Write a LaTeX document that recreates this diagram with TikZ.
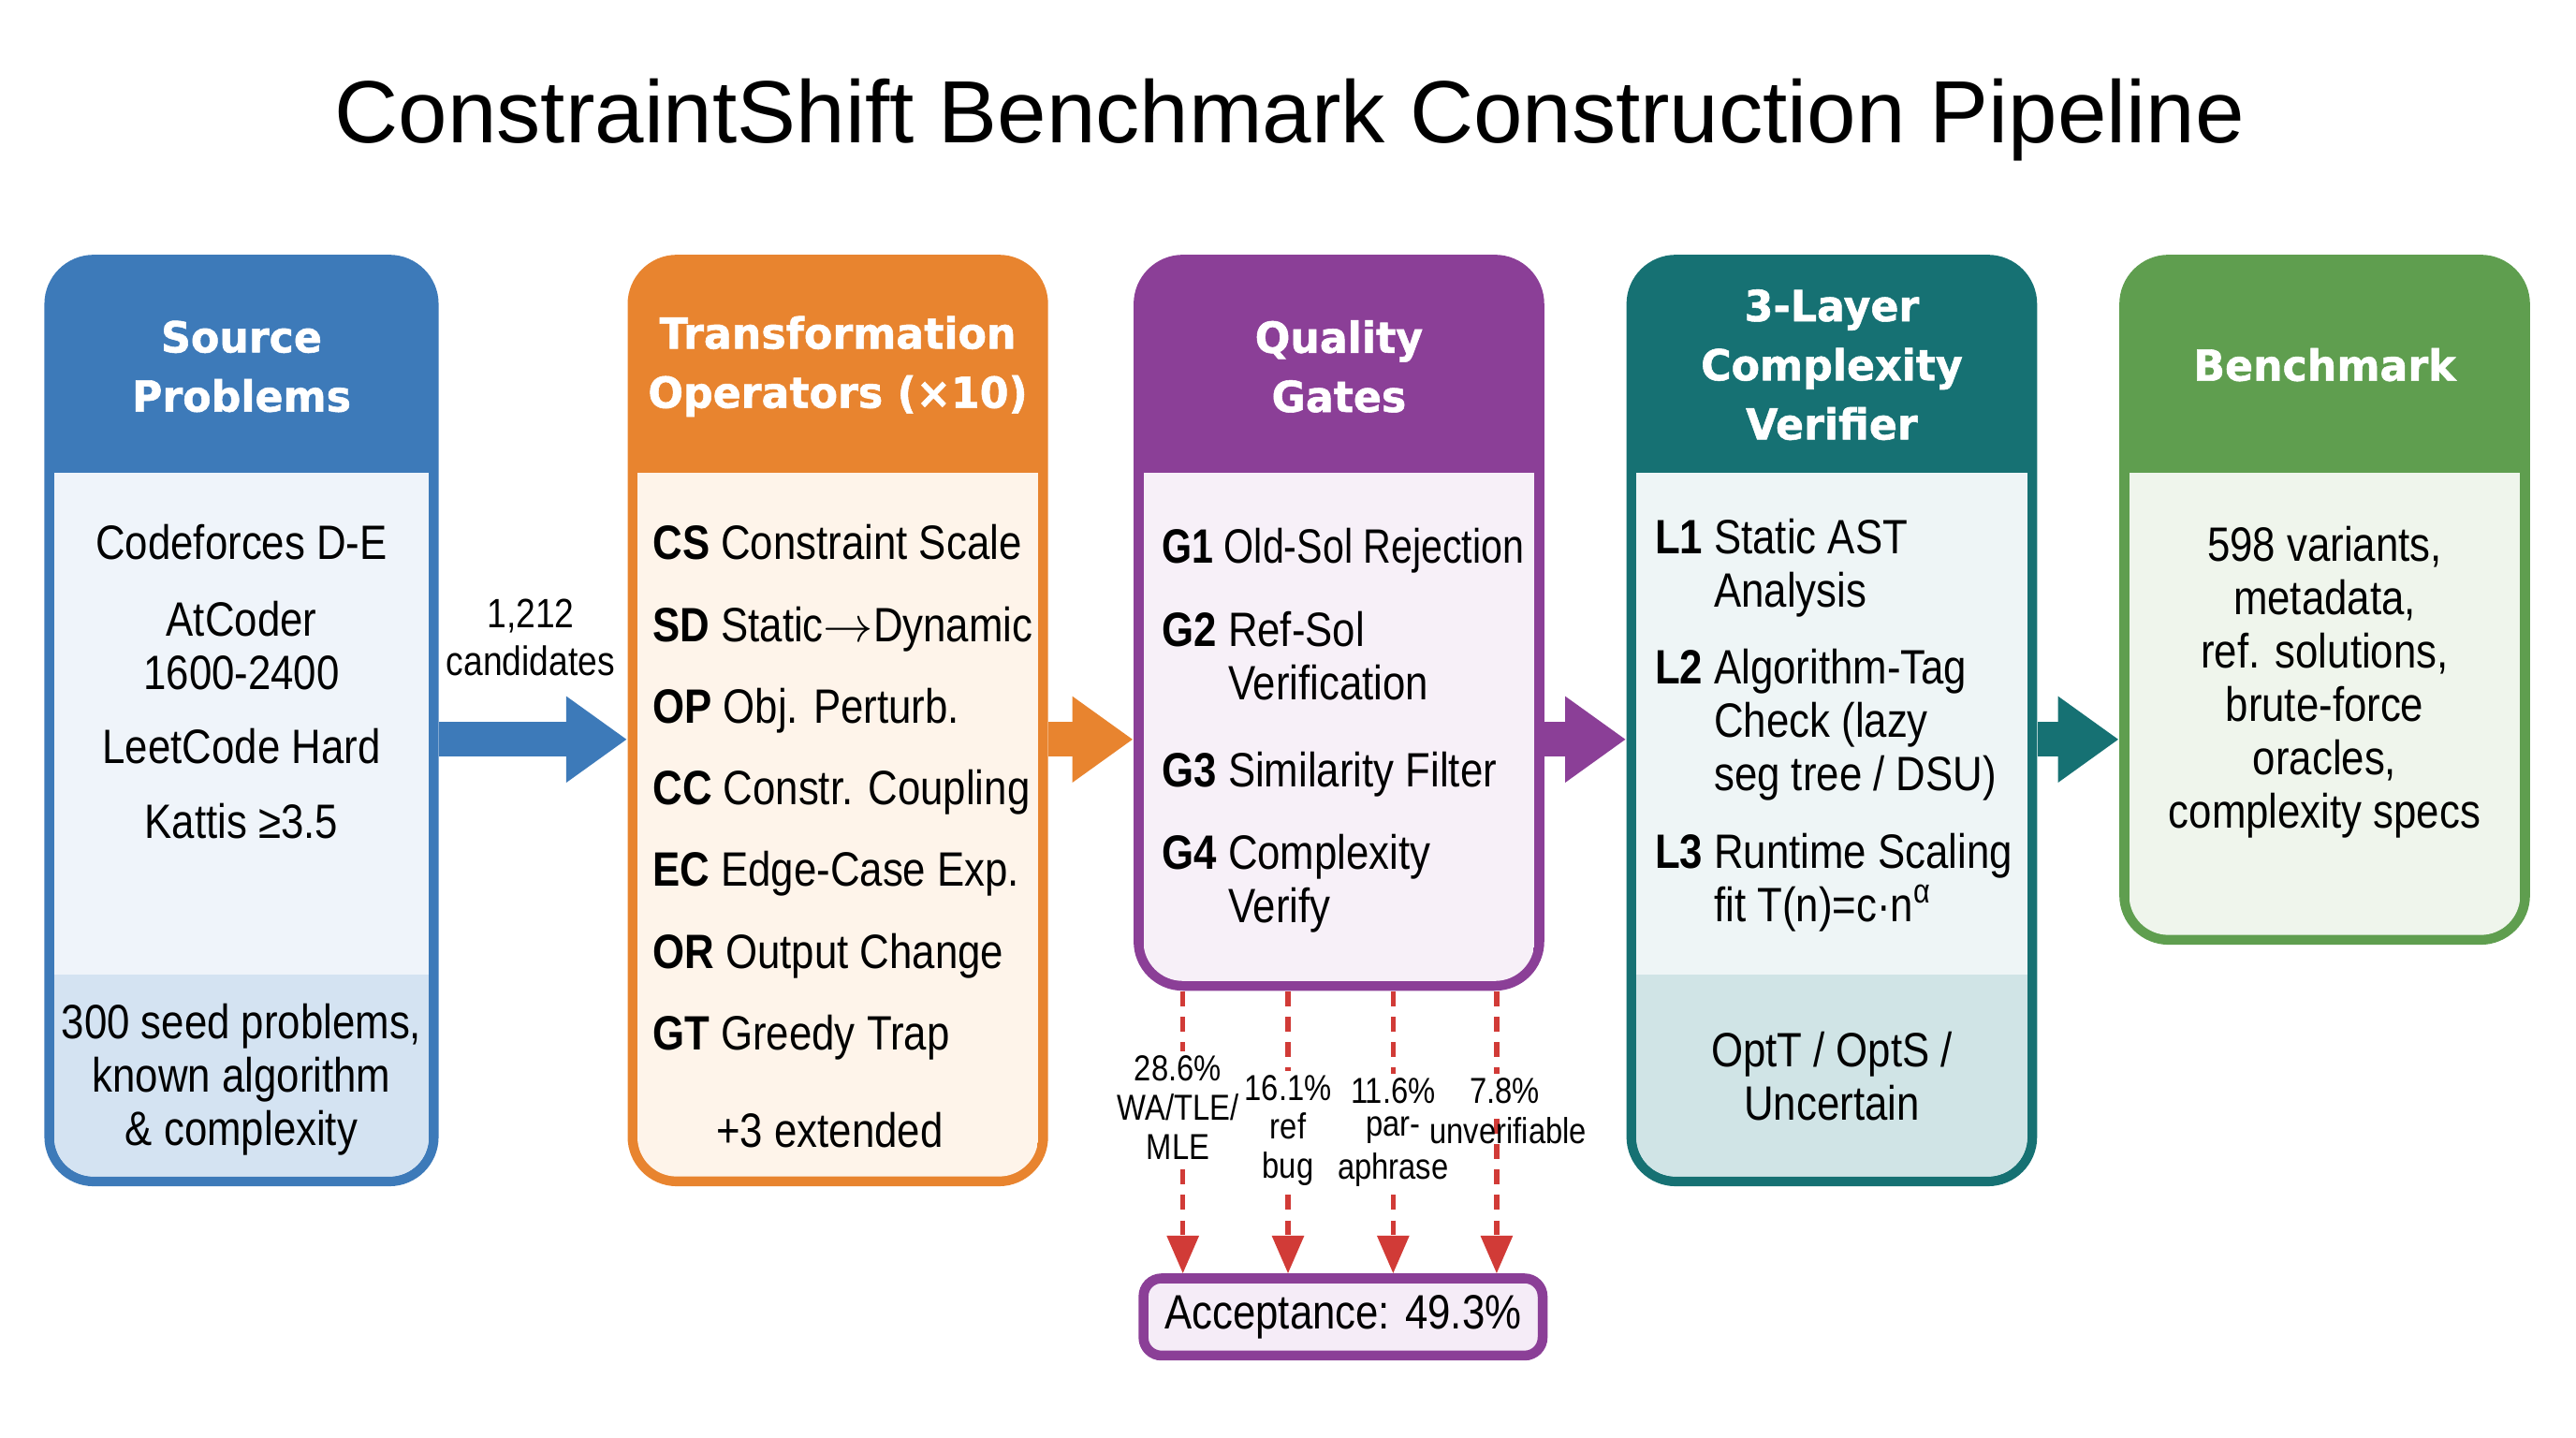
\documentclass[tikz,border=0pt]{standalone}
\usepackage{fontspec}
\setmainfont{Liberation Sans}
\newfontfamily\headfont[FakeStretch=0.97,BoldFeatures={FakeBold=1.2}]{DejaVu Sans}
\newfontfamily\bodyfont[FakeStretch=0.85]{Liberation Sans}
\newfontfamily\tightfont[FakeStretch=0.8]{Liberation Sans}
\usepackage{tikz}
\usetikzlibrary{arrows.meta}

\definecolor{srcblue}{HTML}{3D7AB9}
\definecolor{srcpanel}{HTML}{EFF4FA}
\definecolor{srcbase}{HTML}{D4E3F2}
\definecolor{opsorange}{HTML}{E8842F}
\definecolor{opspanel}{HTML}{FEF4EA}
\definecolor{gatepurple}{HTML}{8B3F97}
\definecolor{gatepanel}{HTML}{F7F0F8}
\definecolor{verteal}{HTML}{167173}
\definecolor{verpanel}{HTML}{EEF5F6}
\definecolor{verbase}{HTML}{D0E4E6}
\definecolor{benchgreen}{HTML}{5F9E4F}
\definecolor{benchpanel}{HTML}{EFF5EC}
\definecolor{dropred}{HTML}{D13B37}
\definecolor{accpanel}{HTML}{F5ECF7}

\tikzset{
  frame/.style={fill=#1,rounded corners=0.6cm,inner sep=0pt},
  head/.style={font=\headfont\bfseries\fontsize{14.8}{20.5}\selectfont,text=white,align=center,inner sep=0pt},
  body/.style={font=\bodyfont\fontsize{16.7}{18.5}\selectfont,inner sep=0pt},
  item/.style={body,anchor=west,text height=0.75em,text depth=0.22em},
  note/.style={font=\bodyfont\fontsize{14.2}{16.4}\selectfont,align=center,inner sep=0pt},
  flow/.style={draw=#1,line width=0.42cm,-{Triangle[length=0.74cm,width=1cm]}},
  drop/.style={draw=dropred,line width=0.06cm,dash pattern=on 0.18cm off 0.13cm,
    -{Triangle[length=0.46cm,width=0.38cm]}},
  droplabel/.style={font=\bodyfont\fontsize{12.5}{13.6}\selectfont,align=center,fill=white,inner sep=1.5pt},
}

\begin{document}
\begin{tikzpicture}[x=0.02cm,y=-0.02cm]
\path[use as bounding box] (0,0) rectangle (1568,875);

% title
\node (title) at (785,73) {\fontsize{30.6}{36}\selectfont ConstraintShift Benchmark Construction Pipeline};

% stage frames
\node[frame=srcblue,minimum width=4.8cm,minimum height=11.34cm] (src) at (147,438.5) {};
\node[frame=opsorange,minimum width=5.12cm,minimum height=11.34cm] (ops) at (510,438.5) {};
\node[frame=gatepurple,minimum width=5cm,minimum height=8.96cm] (gates) at (815,379) {};
\node[frame=verteal,minimum width=5cm,minimum height=11.34cm] (verif) at (1115,438.5) {};
\node[frame=benchgreen,minimum width=5cm,minimum height=8.4cm] (bench) at (1415,365) {};

% light panels
\begin{scope}
  \clip[rounded corners=0.48cm] (33,250) rectangle (261,716);
  \fill[srcpanel] (33,288) rectangle (261,716);
  \fill[srcbase] (33,593) rectangle (261,716);
\end{scope}
\begin{scope}
  \clip[rounded corners=0.48cm] (388,250) rectangle (632,716);
  \fill[opspanel] (388,288) rectangle (632,716);
\end{scope}
\begin{scope}
  \clip[rounded corners=0.48cm] (696,250) rectangle (934,597);
  \fill[gatepanel] (696,288) rectangle (934,597);
\end{scope}
\begin{scope}
  \clip[rounded corners=0.48cm] (996,250) rectangle (1234,716);
  \fill[verpanel] (996,288) rectangle (1234,716);
  \fill[verbase] (996,593) rectangle (1234,716);
\end{scope}
\begin{scope}
  \clip[rounded corners=0.48cm] (1296,250) rectangle (1534,569);
  \fill[benchpanel] (1296,288) rectangle (1534,569);
\end{scope}

% headers
\node[head] (srchead) at (147,223) {Source\\Problems};
\node[head] (opshead) at (510,223) {Transformation\\Operators (×10)};
\node[head] (gatehead) at (815,223) {Quality\\Gates};
\node[head] (verhead) at (1115,222) {3-Layer\\Complexity\\Verifier};
\node[head] (benchhead) at (1415,222) {Benchmark};

% source problems
\node[body] (cf) at (147,330) {Codeforces D-E};
\node[body,align=center] (ac) at (147,393) {AtCoder\\1600-2400};
\node[body] (lc) at (147,454) {LeetCode Hard};
\node[body] (kt) at (147,500) {Kattis ≥3.5};
\node[body,align=center] (seed) at (147,657) {300 seed problems,\\known algorithm\\\& complexity};

% operators
\foreach \k/\t [count=\i] in {CS/Constraint Scale,SD/Static$\to$Dynamic,OP/Obj. Perturb.,
    CC/Constr. Coupling,EC/Edge-Case Exp.,OR/Output Change,GT/Greedy Trap}
  \node[item] (op\i) at (397,{336+49.7*(\i-1)}) {\textbf{\k} \t};
\node[body] (opx) at (505,688) {+3 extended};

% gates
\node[item,font=\tightfont\fontsize{16.7}{18.5}\selectfont] (g1) at (707,338) {\textbf{G1} Old-Sol Rejection};
\node[body,anchor=west] (g2) at (707,403) {\begin{tabular}{@{}l@{ }l@{}}\textbf{G2} & Ref-Sol\\ & Verification\end{tabular}};
\node[item] (g3) at (707,474) {\textbf{G3} Similarity Filter};
\node[body,anchor=west] (g4) at (707,539) {\begin{tabular}{@{}l@{ }l@{}}\textbf{G4} & Complexity\\ & Verify\end{tabular}};

% verifier layers
\node[body,anchor=west] (l1) at (1007,347) {\begin{tabular}{@{}l@{ }l@{}}\textbf{L1} & Static AST\\ & Analysis\end{tabular}};
\node[body,anchor=west] (l2) at (1007,442) {\begin{tabular}{@{}l@{ }l@{}}\textbf{L2} & Algorithm-Tag\\ & Check (lazy\\ & seg tree / DSU)\end{tabular}};
\node[body,anchor=west] (l3) at (1007,538) {\begin{tabular}{@{}l@{ }l@{}}\textbf{L3} & Runtime Scaling\\ & fit T(n)=c·n\textsuperscript{α}\end{tabular}};
\node[body,align=center] (verdict) at (1115,655) {OptT / OptS /\\Uncertain};

% benchmark contents
\node[body,align=center] (bench txt) at (1415,415) {598 variants,\\metadata,\\ref. solutions,\\brute-force\\oracles,\\complexity specs};

% flow between stages
\draw[flow=srcblue] (src.east |- 0,450) -- (ops.west |- 0,450);
\draw[flow=opsorange] (ops.east |- 0,450) -- (gates.west |- 0,450);
\draw[flow=gatepurple] (gates.east |- 0,450) -- (verif.west |- 0,450);
\draw[flow=verteal] (verif.east |- 0,450) -- (bench.west |- 0,450);
\node[note] (cand) at (323,388) {1,212\\candidates};

% acceptance
\node[draw=gatepurple,line width=0.12cm,fill=accpanel,rounded corners=0.22cm,
  minimum width=4.86cm,minimum height=0.94cm,body] (acc) at (817.5,801.5) {Acceptance: 49.3\%};

% rejections
\foreach \x in {720,784,848,911}
  \draw[drop] (gates.south -| \x,0) -- (acc.north -| \x,0);
\node[droplabel] (rej1) at (717,674) {28.6\%\\WA/TLE/\\MLE};
\node[droplabel] (rej2) at (784,688) {16.1\%\\ref\\bug};
\node[droplabel] (rej3) at (848,664) {11.6\%};
\node[droplabel] (rej3b) at (848,688) {par-};
\node[droplabel] (rej3c) at (848,712) {aphrase};
\node[droplabel] (rej4) at (916,664) {7.8\%};
\node[droplabel,fill=none] (rej4b) at (918,688) {unverifiable};
\end{tikzpicture}
\end{document}
